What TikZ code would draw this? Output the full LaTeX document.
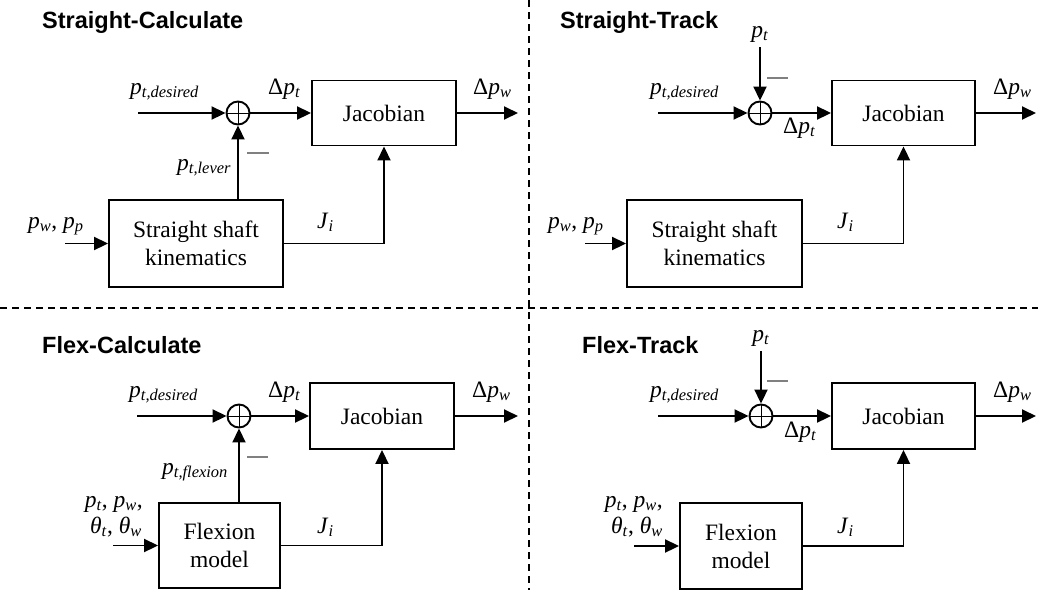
\documentclass[tikz,border=0pt]{standalone}
\usepackage{fontspec}
\setmainfont{Liberation Serif}
\setsansfont{Liberation Sans}
\usetikzlibrary{arrows.meta}

\begin{document}
\begin{tikzpicture}[x=1pt,y=-1pt,
    every node/.style={font=\fontsize{23.5}{28}\selectfont, inner sep=0pt},
    title/.style={anchor=base west, font=\fontsize{23.5}{28}\selectfont\sffamily\bfseries},
    block/.style={draw, line width=1.9pt, align=center},
    sumnode/.style={circle, draw, line width=1.9pt, minimum size=23pt,
        path picture={\draw[line width=0.9pt]
            (path picture bounding box.north) -- (path picture bounding box.south)
            (path picture bounding box.west) -- (path picture bounding box.east);}},
    sig/.style={line width=1.9pt, -{Triangle[length=14pt,width=13pt]}},
    minus/.style={gray, line width=1.2pt},
    divider/.style={line width=2.2pt, dash pattern=on 7pt off 5pt}]

                \newcommand{\pvar}[1]{\textit{p}\textsubscript{\textit{#1}}}
                \newcommand{\dvar}[1]{Δ\pvar{#1}}
                \newcommand{\thvar}[1]{\textit{θ}\textsubscript{\textit{#1}}}
                \newcommand{\jvar}{\textit{J}\textsubscript{\textit{i}}}

                \useasboundingbox (0,0) rectangle (1038,590);

                % Draw dividers
                \draw[divider] (0,308) -- (1038,308);
                \draw[divider] (529,0) -- (529,590);

                % Straight-Calculate
                \node[title] (t1) at (42,28) {Straight-Calculate};
                \node[sumnode] (s1) at (238,113) {};
                \node[block, minimum width=144pt, minimum height=65pt] (jac1) at (384,113) {Jacobian};
                \node[block, minimum width=174pt, minimum height=87pt] (kin1) at (196,243.5) {Straight shaft\\kinematics};
                \coordinate (in1) at (138,113);
                \coordinate (out1) at (518,113);
                \coordinate (pin1) at (65,243.5);
                \draw[sig] (in1) -- (s1);
                \draw[sig] (s1) -- (jac1);
                \draw[sig] (jac1) -- (out1);
                \draw[sig] (pin1) -- (kin1);
                \draw[sig] (kin1.north -| s1) -- (s1);
                \draw[sig] (kin1) -| (jac1);
                \draw[minus] (247,153) -- (269,153);
                \node[anchor=base west] (l1a) at (130,94) {\pvar{t,desired}};
                \node[anchor=base west] (l1b) at (268,94) {\dvar{t}};
                \node[anchor=base west] (l1c) at (473,94) {\dvar{w}};
                \node[anchor=base west] (l1d) at (177,170) {\pvar{t,lever}};
                \node[anchor=base west] (l1e) at (28,228) {\pvar{w}, \pvar{p}};
                \node[anchor=base west] (l1f) at (317,228) {\jvar};

                % Straight-Track
                \node[title] (t2) at (560,28) {Straight-Track};
                \node[sumnode] (s2) at (760,113) {};
                \node[block, minimum width=143pt, minimum height=65pt] (jac2) at (903.5,113) {Jacobian};
                \node[block, minimum width=175pt, minimum height=87pt] (kin2) at (714.5,243.5) {Straight shaft\\kinematics};
                \node[anchor=base] (pt2) at (760,37) {\pvar{t}};
                \coordinate (in2) at (658,113);
                \coordinate (out2) at (1036,113);
                \coordinate (pin2) at (585,243.5);
                \draw[sig] ([yshift=-5pt]pt2.south) -- (s2);
                \draw[sig] (in2) -- (s2);
                \draw[sig] (s2) -- (jac2);
                \draw[sig] (jac2) -- (out2);
                \draw[sig] (pin2) -- (kin2);
                \draw[sig] (kin2) -| (jac2);
                \draw[minus] (767,78) -- (788,78);
                \node[anchor=base west] (l2a) at (650,94) {\pvar{t,desired}};
                \node[anchor=base west] (l2b) at (783,133) {\dvar{t}};
                \node[anchor=base west] (l2c) at (993,94) {\dvar{w}};
                \node[anchor=base west] (l2e) at (548,228) {\pvar{w}, \pvar{p}};
                \node[anchor=base west] (l2f) at (837,228) {\jvar};

                % Flex-Calculate
                \node[title] (t3) at (42,353) {Flex-Calculate};
                \node[sumnode] (s3) at (239,416) {};
                \node[block, minimum width=144pt, minimum height=66pt] (jac3) at (382,416) {Jacobian};
                \node[block, minimum width=121pt, minimum height=85pt] (flex3) at (219.5,545.5) {Flexion\\model};
                \coordinate (in3) at (137,416);
                \coordinate (out3) at (518,416);
                \coordinate (pin3) at (113,545.5);
                \draw[sig] (in3) -- (s3);
                \draw[sig] (s3) -- (jac3);
                \draw[sig] (jac3) -- (out3);
                \draw[sig] (pin3) -- (flex3);
                \draw[sig] (flex3.north -| s3) -- (s3);
                \draw[sig] (flex3) -| (jac3);
                \draw[minus] (247,457) -- (268,457);
                \node[anchor=base west] (l3a) at (129,397) {\pvar{t,desired}};
                \node[anchor=base west] (l3b) at (268,397) {\dvar{t}};
                \node[anchor=base west] (l3c) at (472,397) {\dvar{w}};
                \node[anchor=base west] (l3d) at (162,474) {\pvar{t,flexion}};
                \node[anchor=base east] (l3e) at (143,507) {\pvar{t}, \pvar{w},};
                \node[anchor=base east] (l3g) at (142,533) {\thvar{t}, \thvar{w}};
                \node[anchor=base west] (l3f) at (317,533) {\jvar};

                % Flex-Track
                \node[title] (t4) at (582,353) {Flex-Track};
                \node[sumnode] (s4) at (761,416) {};
                \node[block, minimum width=143pt, minimum height=66pt] (jac4) at (903.5,416) {Jacobian};
                \node[block, minimum width=122pt, minimum height=86pt] (flex4) at (741,546) {Flexion\\model};
                \node[anchor=base] (pt4) at (761,341) {\pvar{t}};
                \coordinate (in4) at (658,416);
                \coordinate (out4) at (1036,416);
                \coordinate (pin4) at (634,546);
                \draw[sig] ([yshift=-5pt]pt4.south) -- (s4);
                \draw[sig] (in4) -- (s4);
                \draw[sig] (s4) -- (jac4);
                \draw[sig] (jac4) -- (out4);
                \draw[sig] (pin4) -- (flex4);
                \draw[sig] (flex4) -| (jac4);
                \draw[minus] (767,381) -- (788,381);
                \node[anchor=base west] (l4a) at (650,397) {\pvar{t,desired}};
                \node[anchor=base west] (l4b) at (784,437) {\dvar{t}};
                \node[anchor=base west] (l4c) at (993,397) {\dvar{w}};
                \node[anchor=base east] (l4e) at (663,507) {\pvar{t}, \pvar{w},};
                \node[anchor=base east] (l4g) at (663,533) {\thvar{t}, \thvar{w}};
                \node[anchor=base west] (l4f) at (837,533) {\jvar};
            \end{tikzpicture}
\end{document}
